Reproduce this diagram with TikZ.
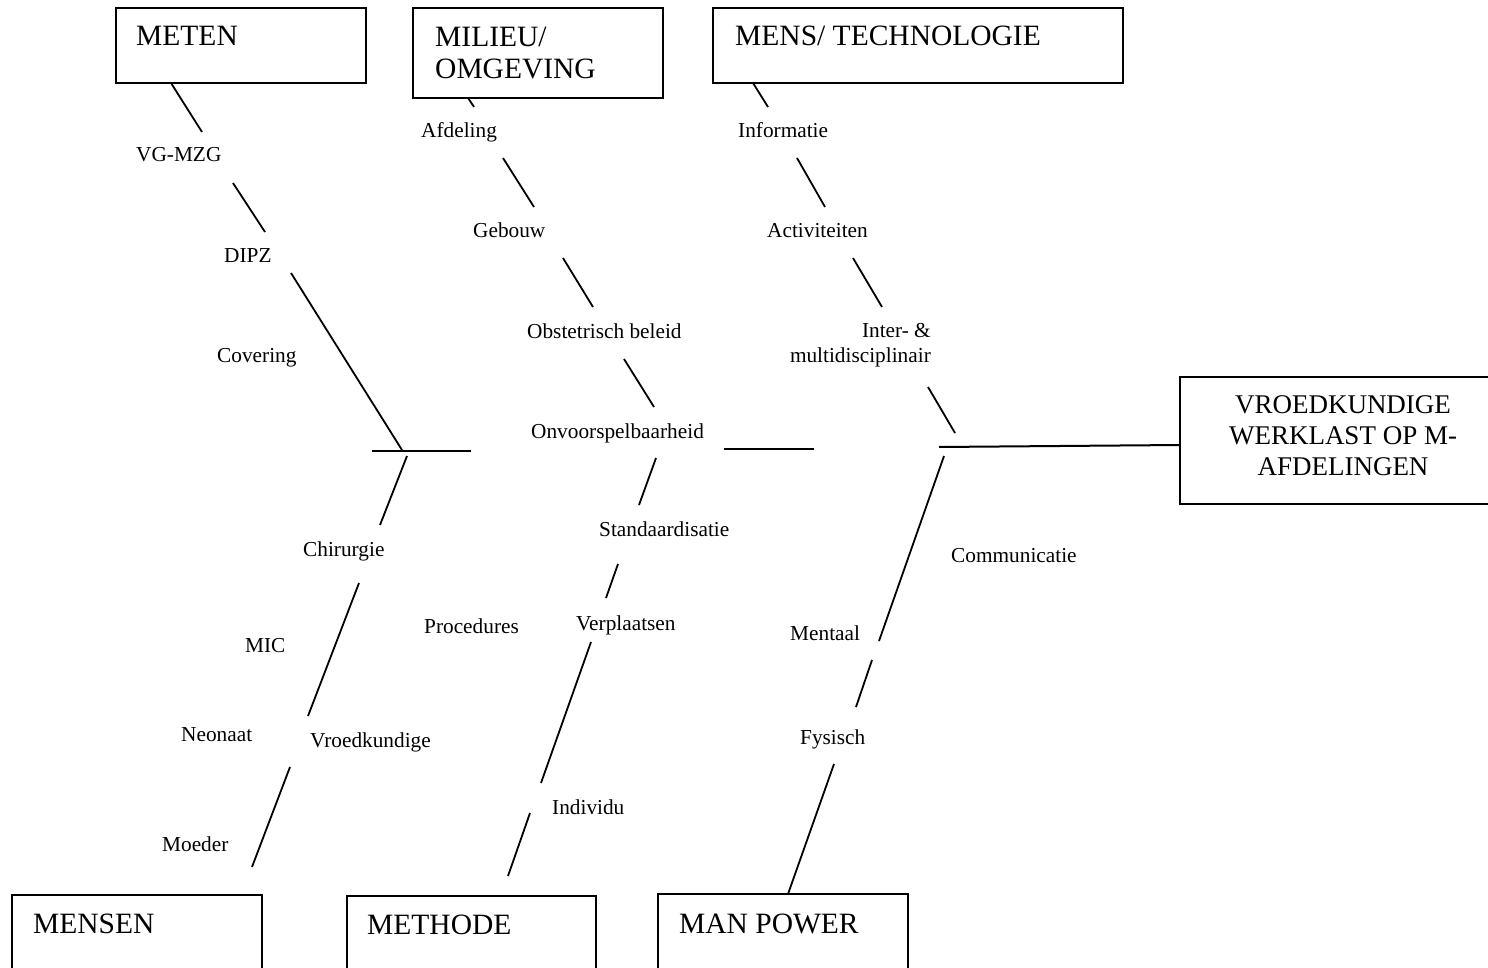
\documentclass[tikz,border=0pt]{standalone}
\usepackage{fontspec}
\setmainfont{Liberation Serif}
\tikzset{
  bone/.style={line width=1.8pt},
  spine/.style={line width=2pt},
  box/.style={draw, line width=1.8pt, inner sep=0pt},
  cause/.style={font=\fontsize{29.5}{32}\selectfont, inner sep=0pt, anchor=base west},
  effect/.style={font=\fontsize{27}{31}\selectfont, inner sep=0pt, anchor=base},
  lbl/.style={font=\fontsize{21.3}{25}\selectfont, inner sep=0pt, anchor=base west},
}
% one straight piece of a bone between two named end points
\newcommand\seg[4][bone]{%
  \coordinate (#2a) at (#3); \coordinate (#2b) at (#4);
  \draw[#1] (#2a) -- (#2b);}
\begin{document}
\begin{tikzpicture}[x=1pt,y=-1pt]
\useasboundingbox (0,0) rectangle (1488,968);
\fill[white] (0,0) rectangle (1488,968);
\clip (0,0) rectangle (1488,968);

% ---- category boxes ----
\node[box, minimum width=250pt, minimum height=75pt] (meten)  at (241,45.5) {};
\node[box, minimum width=250pt, minimum height=90pt] (milieu) at (538,53) {};
\node[box, minimum width=410pt, minimum height=75pt] (mens)   at (918,45.5) {};
\node[box, minimum width=250pt, minimum height=80pt] (mensen) at (137,935) {};
\node[box, minimum width=249pt, minimum height=80pt] (methode) at (471.5,936) {};
\node[box, minimum width=250pt, minimum height=80pt] (manpower) at (783,934) {};
\node[box, minimum width=330pt, minimum height=127pt] (effectbox) at (1345,440.5) {};

\node[cause] (tmeten)  at (136,46) {METEN};
\node[cause] (tmil1)   at (435,47) {MILIEU/};
\node[cause] (tmil2)   at (435,79) {OMGEVING};
\node[cause] (tmens)   at (735,46) {MENS/ TECHNOLOGIE};
\node[cause] (tmensen) at (33,933) {MENSEN};
\node[cause] (tmethode) at (367,934) {METHODE};
\node[cause] (tmanpower) at (679,933) {MAN POWER};
\node[effect] (teff1) at (1343,413) {VROEDKUNDIGE};
\node[effect] (teff2) at (1343,444) {WERKLAST OP M-};
\node[effect] (teff3) at (1343,475) {AFDELINGEN};

% ---- spine ----
\seg[spine]{sp1}{372,451}{471,451}
\seg[spine]{sp2}{724,449}{814,449}
\seg[spine]{sp3}{939,447}{1180,445}

% ---- upper bones ----
\seg{mt1}{171,83}{202,132}
\seg{mt2}{233,183}{265,232}
\seg{mt3}{291,273}{402,450}

\seg{mi1}{468,98}{474,107}
\seg{mi2}{503,158}{534,207}
\seg{mi3}{563,258}{593,307}
\seg{mi4}{624,359}{654,407}

\seg{mn1}{753,83}{768,107}
\seg{mn2}{797,158}{825,207}
\seg{mn3}{853,258}{882,307}
\seg{mn4}{928,387}{955,433}

% ---- lower bones ----
\seg{me1}{407,456}{380,525}
\seg{me2}{359,583}{308,716}
\seg{me3}{290,767}{252,867}

\seg{mh1}{656,458}{639,505}
\seg{mh2}{618,564}{606,598}
\seg{mh3}{591,642}{541,783}
\seg{mh4}{530,813}{508,876}

\seg{mp1}{944,456}{879,641}
\seg{mp2}{872,660}{856,707}
\seg{mp3}{834,764}{788,894}

% ---- cause labels ----
\node[lbl] (vgmzg) at (136,162) {VG-MZG};
\node[lbl] (dipz) at (224,263) {DIPZ};
\node[lbl] (covering) at (217,362) {Covering};
\node[lbl] (afdeling) at (421,138) {Afdeling};
\node[lbl] (gebouw) at (473,238) {Gebouw};
\node[lbl] (obstetrisch) at (527,338) {Obstetrisch beleid};
\node[lbl] (onvoorspel) at (531,438) {Onvoorspelbaarheid};
\node[lbl] (informatie) at (738,138) {Informatie};
\node[lbl] (activiteiten) at (767,238) {Activiteiten};
\node[lbl, anchor=base east] (inter1) at (931,337) {Inter-\ \&};
\node[lbl, anchor=base east] (inter2) at (931,362) {multidisciplinair};
\node[lbl] (chirurgie) at (303,556) {Chirurgie};
\node[lbl] (standaard) at (599,536) {Standaardisatie};
\node[lbl] (procedures) at (424,633) {Procedures};
\node[lbl] (verplaatsen) at (576,630) {Verplaatsen};
\node[lbl] (mic) at (245,652) {MIC};
\node[lbl] (mentaal) at (790,640) {Mentaal};
\node[lbl] (communicatie) at (951,562) {Communicatie};
\node[lbl] (neonaat) at (181,741) {Neonaat};
\node[lbl] (vroedkundige) at (310,747) {Vroedkundige};
\node[lbl] (fysisch) at (800,744) {Fysisch};
\node[lbl] (individu) at (552,814) {Individu};
\node[lbl] (moeder) at (162,851) {Moeder};
\end{tikzpicture}
\end{document}
